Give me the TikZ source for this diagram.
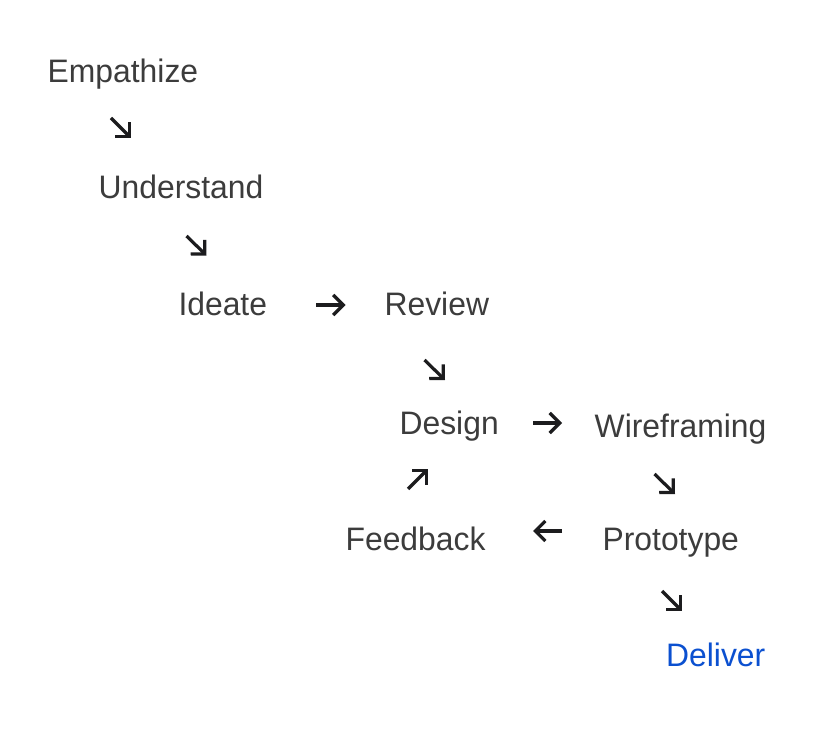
\documentclass[tikz,border=0pt]{standalone}
\usepackage{fontspec}
\setmainfont{Liberation Sans}[FakeStretch=0.98]
\usetikzlibrary{arrows.meta}
\definecolor{stagegray}{HTML}{3C3C3C}
\definecolor{flowblack}{HTML}{1C1C1E}
\definecolor{deliverblue}{HTML}{0B50D0}

\begin{document}
\begin{tikzpicture}[x=1pt,y=-1pt,
  stage/.style={anchor=base west,inner sep=0pt,text=stagegray,
    font=\fontsize{32.5}{39}\selectfont},
  flow/.style={draw=flowblack,line width=3.2pt,
    -{Straight Barb[length=10pt,width=20pt,sharp]}}]

\useasboundingbox (0,0) rectangle (831,730);

\node[stage] (emp) at (47.5,83) {Empathize};
\node[stage] (und) at (98.5,199) {Understand};
\node[stage] (ide) at (178.3,316) {Ideate};
\node[stage] (rev) at (384.4,316) {Review};
\node[stage] (des) at (399.4,434) {Design};
\node[stage] (wir) at (594.5,437) {Wireframing};
\node[stage] (fee) at (345.4,550) {Feedback};
\node[stage] (pro) at (602.4,550) {Prototype};
\node[stage,text=deliverblue] (del) at (666,666) {Deliver};

% short arrows sitting in the gaps between the stages
\coordinate (empout) at (111,118);   \coordinate (undin) at (131,138);
\coordinate (undout) at (186.5,236); \coordinate (idein) at (206.5,255.5);
\coordinate (ideout) at (316,305);   \coordinate (revin) at (345.5,305);
\coordinate (revout) at (424.5,360); \coordinate (desin) at (445,380);
\coordinate (desout) at (533,423);   \coordinate (wirin) at (562,423);
\coordinate (feeout) at (408,489);   \coordinate (desback) at (428,469);
\coordinate (wirout) at (654.5,474); \coordinate (proin) at (675,494);
\coordinate (proout) at (562,531);   \coordinate (feein) at (533,531);
\coordinate (prodone) at (662,591);  \coordinate (delin) at (682,611);

\draw[flow] (empout) -- (undin);
\draw[flow] (undout) -- (idein);
\draw[flow] (ideout) -- (revin);
\draw[flow] (revout) -- (desin);
\draw[flow] (desout) -- (wirin);
\draw[flow] (feeout) -- (desback);
\draw[flow] (wirout) -- (proin);
\draw[flow] (proout) -- (feein);
\draw[flow] (prodone) -- (delin);

\end{tikzpicture}
\end{document}
